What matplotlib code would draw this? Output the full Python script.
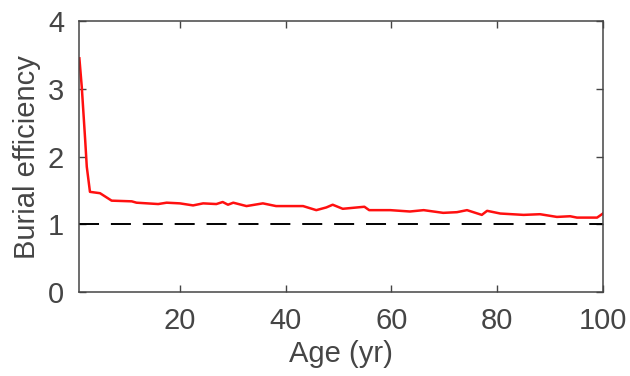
import matplotlib
matplotlib.use("Agg")
import matplotlib.pyplot as plt

# burial efficiency vs age
age = [1.0, 1.45, 2.1, 2.4, 3.0, 4.9, 7.1, 10.9, 11.8, 15.9, 17.5, 20.0, 22.5, 24.4,
       26.9, 28.1, 29.1, 30.1, 32.6, 35.7, 38.2, 43.3, 45.8, 47.7, 48.9, 50.8,
       54.9, 55.8, 59.8, 63.5, 66.1, 69.8, 72.4, 74.3, 77.1, 78.1, 80.6, 85.0,
       88.1, 91.3, 93.8, 95.1, 98.9, 100.0]
efficiency = [3.45, 3.03, 2.24, 1.85, 1.48, 1.46, 1.35, 1.34, 1.32, 1.30, 1.32, 1.31,
              1.28, 1.31, 1.30, 1.33, 1.29, 1.32, 1.27, 1.31, 1.27, 1.27, 1.21,
              1.25, 1.29, 1.23, 1.26, 1.21, 1.21, 1.19, 1.21, 1.17, 1.18, 1.21,
              1.14, 1.20, 1.16, 1.14, 1.15, 1.11, 1.12, 1.10, 1.10, 1.16]
xticks = [20, 40, 60, 80, 100]
yticks = [0, 1, 2, 3, 4]

plt.rcParams['font.family'] = ['Liberation Sans', 'DejaVu Sans']
grey = '#454545'
fs = 21

fig = plt.figure(figsize=(6.3, 3.76), dpi=100)
ax = fig.add_axes([0.126, 0.223, 0.831, 0.721])

ax.plot(age, efficiency, color='#ff1010', lw=1.8)
ax.axhline(1, color='black', lw=1.4, dashes=(10.3, 6.1))

ax.set_xlim(1, 100)
ax.set_ylim(0, 4)
ax.set_xticks(xticks)
ax.set_yticks(yticks)
ax.tick_params(direction='in', top=True, right=True, length=5, width=1,
               labelsize=fs, colors=grey, pad=11)
for s in ax.spines.values():
    s.set_color(grey)
    s.set_linewidth(1.1)

ax.set_xlabel('Age (yr)', fontsize=fs, color=grey, labelpad=3)
ax.set_ylabel('Burial efficiency', fontsize=fs, color=grey, labelpad=5)

fig.savefig('out.png', dpi=100)
